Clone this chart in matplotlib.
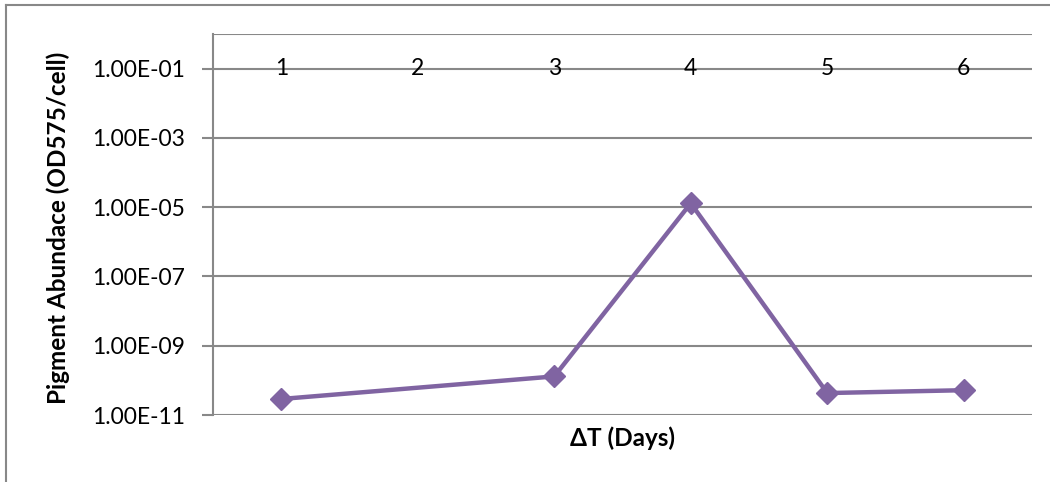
import numpy as np
import matplotlib
matplotlib.use("Agg")
import matplotlib.pyplot as plt
from matplotlib.lines import Line2D

# Pigment abundance per day (day 2 has no measurement)
days = ["1", "2", "3", "4", "5", "6"]
abundance = [2.9e-11, np.nan, 1.3e-10, 1.3e-5, 4.3e-11, 5.2e-11]
ytick_values = [1e-11, 1e-9, 1e-7, 1e-5, 1e-3, 1e-1]
ytick_labels = ["1.00E-11", "1.00E-09", "1.00E-07", "1.00E-05", "1.00E-03", "1.00E-01"]

plt.rcParams["font.family"] = ["Lato", "DejaVu Sans"]

W, H = 1050, 482
fig = plt.figure(figsize=(W / 100, H / 100), dpi=100)
ax = fig.add_axes([213 / W, 1 - 415 / H, (1032 - 213) / W, (415 - 34) / H])

grid_col = "#888888"
line_col = "#8064A2"

x = np.arange(1, len(days) + 1)
vals = np.array(abundance, dtype=float)
ok = ~np.isnan(vals)

ax.set_yscale("log")
ax.set_ylim(1e-11, 1e0)
ax.set_xlim(0.5, len(days) + 0.5)

# horizontal gridlines plus top line
for v in ytick_values + [1e0]:
    ax.axhline(v, color=grid_col, lw=1.5, zorder=1)

ax.plot(x[ok], vals[ok], color=line_col, lw=3.2, marker="D", ms=11,
        markeredgecolor=line_col, markerfacecolor=line_col, zorder=3,
        solid_joinstyle="miter")

# category labels sit on the 1E-01 line
for xi, lab in zip(x, days):
    ax.text(xi, 1e-1, lab, ha="center", va="center", fontsize=16.5, color="black", zorder=2)

ax.set_yticks(ytick_values)
ax.set_yticklabels(ytick_labels, fontsize=16.5)
ax.yaxis.set_minor_locator(matplotlib.ticker.NullLocator())
ax.tick_params(axis="y", length=8, width=1.5, color=grid_col, pad=12)
ax.set_xticks([])

for side in ["top", "right", "bottom"]:
    ax.spines[side].set_visible(False)
ax.spines["left"].set_color(grid_col)
ax.spines["left"].set_linewidth(1.5)

fig.text(58 / W, 1 - 228 / H, "Pigment Abundace (OD575/cell)", rotation=90,
         ha="center", va="center", fontsize=17.5, fontweight="bold")
fig.text(622 / W, 1 - 438 / H, "ΔT (Days)", ha="center", va="center",
         fontsize=17.5, fontweight="bold")

# chart frame
fig.add_artist(Line2D([6 / W, 6 / W], [0, 1 - 5 / H], transform=fig.transFigure,
                      color=grid_col, lw=1.5))
fig.add_artist(Line2D([6 / W, 1], [1 - 5 / H, 1 - 5 / H], transform=fig.transFigure,
                      color=grid_col, lw=1.5))

fig.savefig("out.png", dpi=100)
